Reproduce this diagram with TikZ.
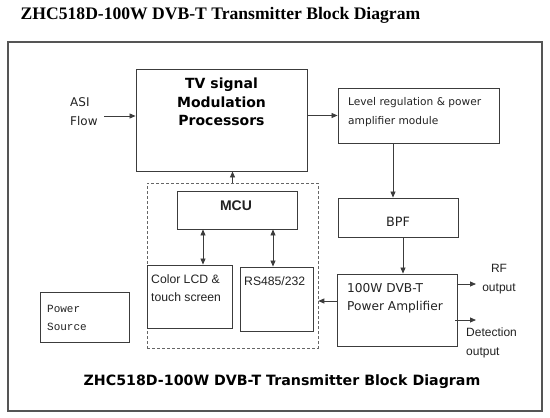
\documentclass[tikz,border=0pt]{standalone}
\usepackage{fontspec}
\setmainfont{Liberation Serif}
\newfontfamily\verdfont{DejaVu Sans}
\newfontfamily\arialfont{Liberation Sans}
\newfontfamily\monofont{Liberation Mono}
\usetikzlibrary{arrows.meta,positioning,calc}
\definecolor{boxline}{HTML}{3C3C3C}
\definecolor{frameline}{HTML}{555555}
\definecolor{textgray}{HTML}{222222}

\begin{document}
\begin{tikzpicture}[x=1pt, y=-1pt,
    framebox/.style={
        rectangle, draw=frameline, line width=1.1pt, inner sep=0pt
    },
    blockbox/.style={
        rectangle, draw=boxline, line width=0.9pt, inner sep=0pt
    },
    ctrlbox/.style={
        rectangle, draw=black!60, line width=0.6pt, densely dashed, inner sep=0pt
    },
    verdtext/.style={
        font=\verdfont\fontsize{10.6}{19}\selectfont, text=textgray, inner sep=0pt
    },
    verdbold/.style={
        font=\verdfont\bfseries\fontsize{14}{18.5}\selectfont, text=black, inner sep=0pt
    },
    arialtext/.style={
        font=\arialfont\fontsize{12.2}{18}\selectfont, text=textgray, inner sep=0pt
    },
    sigarrow/.style={
        -{Triangle[length=6pt, width=5pt]}, line width=0.8pt, draw=boxline
    },
    busarrow/.style={
        {Triangle[length=6pt, width=5pt]}-{Triangle[length=6pt, width=5pt]}, line width=0.8pt, draw=boxline
    }
]
\useasboundingbox (0,0) rectangle (550,418);

% Titles
\node[font=\bfseries\fontsize{17.6}{20}\selectfont, inner sep=0pt] (toptitle) at (220.5,15) {ZHC518D-100W DVB-T Transmitter Block Diagram};
\node[framebox, minimum width=534pt, minimum height=369pt] (frame) at (275,226.5) {};
\node[verdbold, font=\verdfont\bfseries\fontsize{14.2}{17}\selectfont] (bottomtitle) at (282,382) {ZHC518D-100W DVB-T Transmitter Block Diagram};

% Signal chain
\node[blockbox, minimum width=171pt, minimum height=102pt] (tv) at (221.5,120) {};
\node[verdbold, align=center] (tvlabel) at (221.5,102) {TV signal\\Modulation\\Processors};

\node[verdtext, font=\verdfont\fontsize{12}{19}\selectfont, align=left, anchor=west] (asi) at (70,112) {ASI\\Flow};
\coordinate (asiout) at (104,116);

\node[blockbox, minimum width=161pt, minimum height=55pt] (level) at (418.5,115.5) {};
\node[verdtext, align=left, anchor=west] (levellabel) at (348,112) {Level regulation \& power\\amplifier module};

\node[blockbox, minimum width=120pt, minimum height=39pt] (bpf) at (398,217.5) {};
\node[verdtext, font=\verdfont\fontsize{12.8}{16}\selectfont] (bpflabel) at (398,222) {BPF};

\node[blockbox, minimum width=120pt, minimum height=72pt] (pa) at (397,310) {};
\node[verdtext, font=\verdfont\fontsize{12.2}{18}\selectfont, align=left, anchor=west] (palabel) at (347,298.5) {100W DVB-T\\Power Amplifier};

\node[arialtext, font=\arialfont\fontsize{12}{19}\selectfont, align=center] (rf) at (499,279.5) {RF\\output};
\coordinate (rfend) at (476,284);
\node[arialtext, font=\arialfont\fontsize{12}{19}\selectfont, align=left, anchor=west] (det) at (466,343) {Detection\\output};
\coordinate (detend) at (476,320);

% Control unit
\node[ctrlbox, minimum width=171pt, minimum height=165pt] (ctrl) at (232.5,265.5) {};
\node[blockbox, minimum width=120pt, minimum height=38pt] (mcu) at (237,210) {};
\node[arialtext, font=\arialfont\bfseries\fontsize{14}{16}\selectfont] (mculabel) at (236,205.5) {MCU};
\node[blockbox, minimum width=85pt, minimum height=63pt] (lcd) at (189.5,296.5) {};
\node[arialtext, align=left, anchor=west] (lcdlabel) at (151,288.5) {Color LCD \&\\touch screen};
\node[blockbox, minimum width=73pt, minimum height=64pt] (rs) at (276.5,299) {};
\node[arialtext, anchor=west] (rslabel) at (244,281) {RS485/232};

% Power
\node[blockbox, minimum width=89pt, minimum height=50pt] (power) at (84.5,317) {};
\node[font=\monofont\fontsize{11}{18}\selectfont, text=textgray, inner sep=0pt, align=left, anchor=west] (powerlabel) at (47,317.5) {Power\\Source};

% Connections
\draw[sigarrow] (asiout) -- (asiout -| tv.west);
\draw[sigarrow] (tv.east |- level.west) -- (level.west);
\draw[sigarrow] ([xshift=-25.5pt]level.south) -- ([xshift=-25.5pt]level.south |- bpf.north);
\draw[sigarrow] ([xshift=5pt]bpf.south) -- ([xshift=5pt]bpf.south |- pa.north);
\draw[sigarrow] ([yshift=9pt]pa.west) -- ([yshift=9pt]pa.west -| ctrl.east);
\draw[sigarrow] (ctrl.north) -- (ctrl.north |- tv.south);
\draw[busarrow] ([xshift=13.5pt]lcd.north) -- ([xshift=13.5pt]lcd.north |- mcu.south);
\draw[busarrow] ([xshift=-3.5pt]rs.north) -- ([xshift=-3.5pt]rs.north |- mcu.south);
\draw[sigarrow] (pa.east |- rfend) -- (rfend);
\draw[sigarrow] ([xshift=-2pt]pa.east |- detend) -- (detend);

\end{tikzpicture}
\end{document}
